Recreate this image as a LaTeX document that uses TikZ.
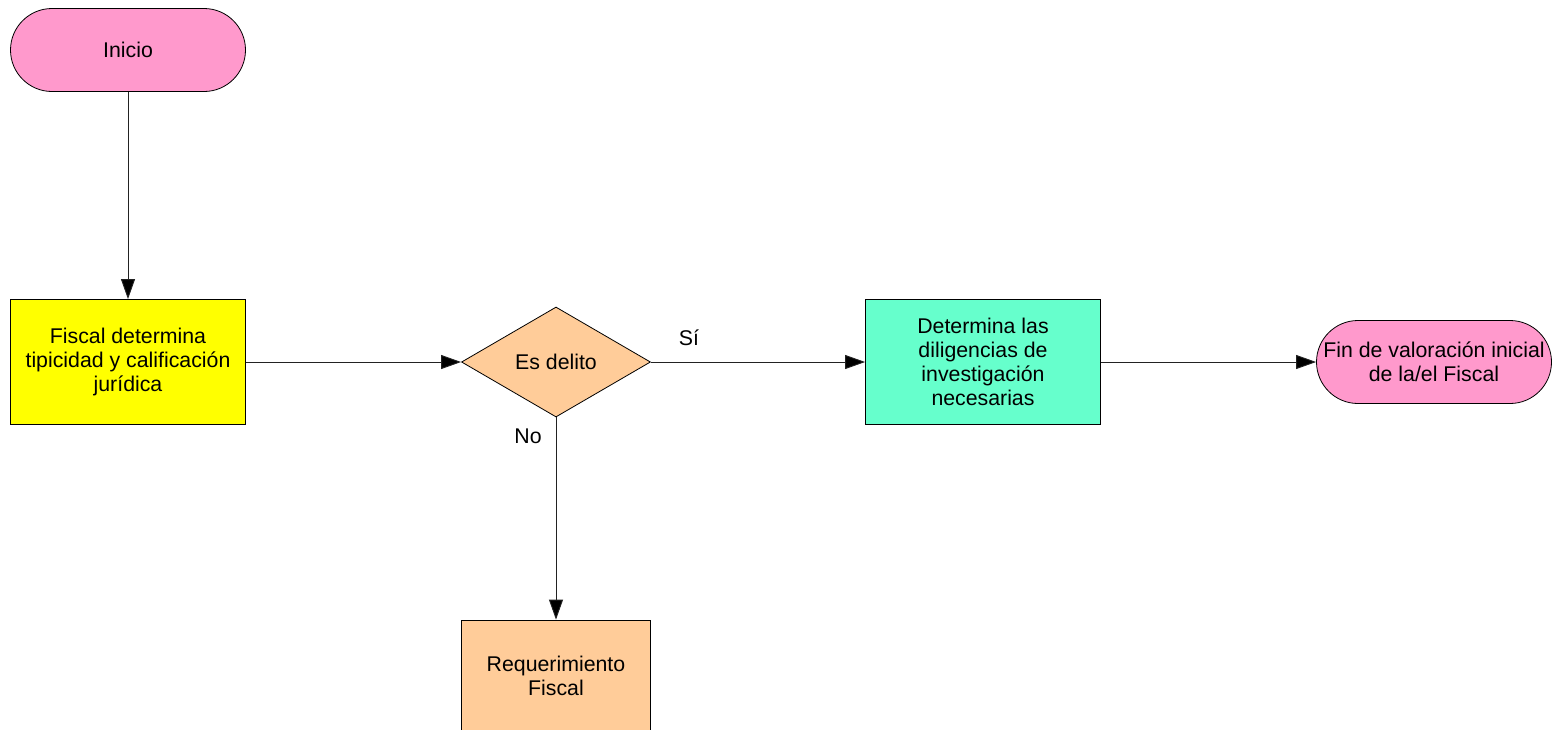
\documentclass[tikz,border=0pt]{standalone}
\usepackage{fontspec}
\setmainfont{Liberation Sans}
\usetikzlibrary{arrows.meta,shapes.geometric}
\definecolor{pinkfill}{HTML}{FF99CC}
\definecolor{yellowfill}{HTML}{FFFF00}
\definecolor{peachfill}{HTML}{FFCC99}
\definecolor{greenfill}{HTML}{66FFCC}
\definecolor{edgegray}{HTML}{222222}
\tikzset{
  base/.style={draw=black, line width=0.8pt, inner sep=0pt, align=center,
    font=\fontsize{21.3}{24}\selectfont},
  terminal/.style={base, fill=pinkfill, rounded corners=41.5pt,
    minimum width=235pt, minimum height=83pt},
  procbox/.style={base, minimum width=235pt, minimum height=125pt},
  decision/.style={base, diamond, fill=peachfill, aspect=2,
    minimum width=189pt, minimum height=110pt},
  flow/.style={draw=edgegray, line width=0.9pt,
    -{Triangle[length=20pt,width=14pt,fill=black]}},
  lbl/.style={font=\fontsize{21.3}{24}\selectfont, inner sep=0pt}
}
\begin{document}
\begin{tikzpicture}[x=1pt,y=-1pt]
\useasboundingbox (0,0) rectangle (1556,729);
\clip (0,0) rectangle (1556,729);
\node[terminal] (inicio) at (128,50) {Inicio};
\node[procbox, fill=yellowfill] (fiscal) at (128,362) {Fiscal determina\\tipicidad y calificación\\jurídica};
\node[decision] (delito) at (556,362) {Es delito};
\node[procbox, fill=greenfill] (dilig) at (983,362) {Determina las\\diligencias de\\investigación\\necesarias};
\node[terminal] (fin) at (1434,362) {Fin de valoración inicial\\de la/el Fiscal};
\node[procbox, fill=peachfill, minimum width=189pt, minimum height=112pt] (req) at (556,676) {Requerimiento\\Fiscal};
\node[lbl] (si) at (689,338) {Sí};
\node[lbl] (no) at (528,436) {No};
\draw[flow] (inicio) -- (fiscal);
\draw[flow] (fiscal) -- (delito);
\draw[flow] (delito) -- (dilig);
\draw[flow] (dilig) -- (fin);
\draw[flow] (delito) -- (req);
\end{tikzpicture}
\end{document}
